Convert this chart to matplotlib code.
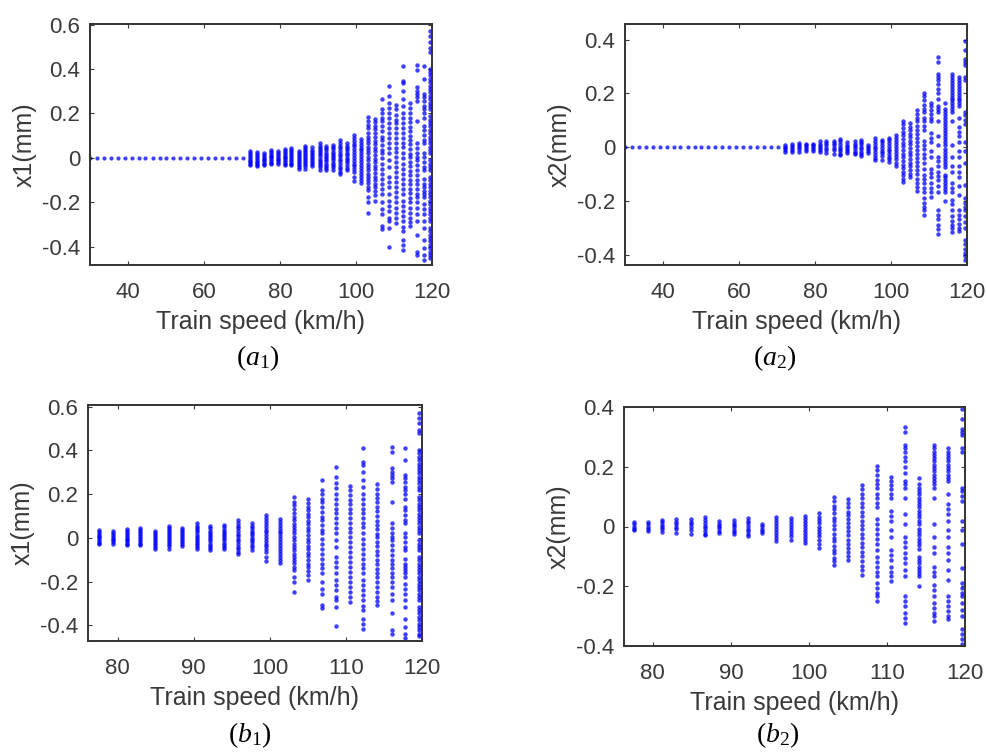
import matplotlib
matplotlib.use("Agg")
import matplotlib.pyplot as plt

plt.rcParams['font.family'] = ['Liberation Sans', 'DejaVu Sans']
plt.rcParams['axes.unicode_minus'] = False
plt.rcParams['mathtext.fontset'] = 'custom'
plt.rcParams['mathtext.rm'] = 'Liberation Serif'
plt.rcParams['mathtext.it'] = 'Liberation Serif:italic'

# speeds with a steady (zero) response
flat_speeds = [30.0, 31.8, 33.7, 35.5, 37.3, 39.1, 41.0, 42.8, 44.6, 46.5, 48.3, 50.1,
               51.9, 53.8, 55.6, 57.4, 59.3, 61.1, 62.9, 64.8, 66.6, 68.4, 70.2]

# speeds where the response spreads out
band_speeds = [72.1, 73.9, 75.7, 77.6, 79.4, 81.2, 83.0, 84.9, 86.7, 88.5, 90.4, 92.2,
               94.0, 95.8, 97.7, 99.5, 101.3, 103.2, 105.0, 106.8, 108.7, 110.5, 112.3,
               114.1, 116.0, 117.8, 119.6]

# x1 values (mm) sampled at each band speed
x1_bands = [
    [0.029, 0.02, 0.012, 0.004, -0.005, -0.013, -0.021, -0.028, -0.034],
    [0.026, 0.017, 0.009, 0.0, -0.008, -0.017, -0.025, -0.032, -0.038],
    [0.02, 0.012, 0.004, -0.004, -0.012, -0.02, -0.027, -0.034],
    [0.035, 0.027, 0.018, 0.01, 0.002, -0.006, -0.014, -0.022, -0.029],
    [0.03, 0.021, 0.013, 0.004, -0.004, -0.012, -0.019, -0.026],
    [0.04, 0.031, 0.022, 0.013, 0.005, -0.003, -0.011, -0.019, -0.027, -0.034],
    [0.043, 0.034, 0.025, 0.016, 0.007, -0.002, -0.01, -0.018, -0.026, -0.034],
    [0.03, 0.021, 0.012, 0.003, -0.006, -0.015, -0.024, -0.033, -0.041, -0.049],
    [0.053, 0.044, 0.035, 0.026, 0.017, 0.008, -0.001, -0.01, -0.019, -0.028, -0.037, -0.049],
    [0.047, 0.037, 0.028, 0.019, 0.01, 0.001, -0.008, -0.017, -0.027, -0.037],
    [0.066, 0.055, 0.045, 0.035, 0.025, 0.015, 0.006, -0.004, -0.013, -0.023, -0.033, -0.043, -0.053],
    [0.053, 0.043, 0.033, 0.023, 0.013, 0.004, -0.006, -0.016, -0.026, -0.036, -0.046, -0.056],
    [0.058, 0.048, 0.038, 0.028, 0.018, 0.008, -0.002, -0.012, -0.023, -0.033, -0.043, -0.053],
    [0.081, 0.066, 0.055, 0.043, 0.031, 0.019, 0.008, -0.004, -0.016, -0.028, -0.04, -0.052, -0.063, -0.075],
    [0.066, 0.055, 0.044, 0.033, 0.022, 0.011, 0.001, -0.01, -0.021, -0.032, -0.044, -0.056],
    [0.104, 0.089, 0.077, 0.064, 0.051, 0.038, 0.026, 0.013, 0.0, -0.013, -0.026, -0.039, -0.052,
     -0.064, -0.087, -0.105],
    [0.085, 0.072, 0.059, 0.046, 0.033, 0.02, 0.007, -0.006, -0.02, -0.033, -0.046, -0.06, -0.073,
     -0.087, -0.1, -0.113],
    [0.185, 0.165, 0.15, 0.134, 0.112, 0.096, 0.08, 0.065, 0.05, 0.035, 0.02, 0.005, -0.011, -0.026,
     -0.04, -0.055, -0.072, -0.087, -0.1, -0.115, -0.133, -0.145, -0.178, -0.2, -0.25],
    [0.176, 0.16, 0.143, 0.128, 0.11, 0.095, 0.078, 0.062, 0.045, 0.03, 0.012, -0.004, -0.02, -0.037,
     -0.052, -0.07, -0.085, -0.1, -0.118, -0.133, -0.15, -0.168, -0.194],
    [0.267, 0.218, 0.203, 0.18, 0.165, 0.142, 0.119, 0.096, 0.081, 0.058, 0.035, 0.02, -0.003, -0.026,
     -0.049, -0.072, -0.095, -0.118, -0.14, -0.163, -0.2, -0.232, -0.255, -0.308, -0.32],
    [0.325, 0.28, 0.249, 0.226, 0.203, 0.18, 0.157, 0.134, 0.112, 0.089, 0.066, 0.043, 0.02, -0.011,
     -0.041, -0.087, -0.11, -0.133, -0.163, -0.194, -0.217, -0.24, -0.27, -0.285, -0.316, -0.403],
    [0.237, 0.218, 0.195, 0.172, 0.157, 0.134, 0.112, 0.089, 0.066, 0.043, 0.028, 0.005, -0.018, -0.041,
     -0.064, -0.087, -0.11, -0.133, -0.156, -0.178, -0.201, -0.224, -0.247, -0.27, -0.293],
    [0.412, 0.348, 0.335, 0.302, 0.264, 0.234, 0.203, 0.18, 0.157, 0.134, 0.112, 0.089, 0.066, 0.05,
     0.02, -0.003, -0.026, -0.049, -0.072, -0.095, -0.118, -0.14, -0.163, -0.194, -0.217, -0.24,
     -0.262, -0.285, -0.31, -0.331, -0.37, -0.395, -0.415],
    [0.246, 0.224, 0.201, 0.181, 0.162, 0.139, 0.121, 0.098, 0.079, 0.061, 0.04, 0.019, 0.002, -0.021,
     -0.038, -0.061, -0.079, -0.101, -0.119, -0.142, -0.159, -0.181, -0.2, -0.226, -0.249, -0.272,
     -0.29, -0.308],
    [0.417, 0.394, 0.318, 0.302, 0.287, 0.272, 0.257, 0.165, 0.066, 0.043, 0.02, 0.005, -0.011, -0.034,
     -0.056, -0.079, -0.102, -0.118, -0.14, -0.163, -0.178, -0.201, -0.224, -0.255, -0.285, -0.346,
     -0.423, -0.44],
    [0.412, 0.356, 0.287, 0.272, 0.257, 0.234, 0.218, 0.203, 0.18, 0.142, 0.127, 0.104, 0.081, 0.066,
     0.02, 0.005, -0.018, -0.041, -0.056, -0.095, -0.118, -0.133, -0.148, -0.163, -0.178, -0.209,
     -0.232, -0.255, -0.285, -0.316, -0.37, -0.408, -0.438, -0.46],
    [0.57, 0.547, 0.524, 0.493, 0.478, 0.402, 0.387, 0.371, 0.356, 0.34, 0.325, 0.31, 0.295, 0.279,
     0.264, 0.249, 0.233, 0.218, 0.188, 0.172, 0.157, 0.142, 0.127, 0.111, 0.096, 0.081, 0.066, 0.05,
     0.035, 0.02, -0.011, -0.026, -0.041, -0.056, -0.087, -0.102, -0.118, -0.133, -0.148, -0.163,
     -0.178, -0.194, -0.209, -0.224, -0.239, -0.255, -0.27, -0.285, -0.316, -0.331, -0.346, -0.362,
     -0.377, -0.392, -0.408, -0.423, -0.438, -0.45],
]

# x2 values (mm) sampled at each band speed
x2_bands = [
    [0.008, 0.002, -0.004, -0.01, -0.016],
    [0.012, 0.005, -0.002, -0.009, -0.018],
    [0.015, 0.008, 0.0, -0.008, -0.018],
    [0.014, 0.007, 0.0, -0.007, -0.013],
    [0.014, 0.007, 0.0, -0.008, -0.015],
    [0.022, 0.014, 0.006, -0.002, -0.01, -0.019],
    [0.025, 0.016, 0.008, -0.001, -0.01, -0.022],
    [0.025, 0.016, 0.007, -0.002, -0.011, -0.024],
    [0.031, 0.022, 0.012, 0.003, -0.006, -0.015, -0.024, -0.03],
    [0.018, 0.01, 0.002, -0.006, -0.014, -0.022],
    [0.022, 0.013, 0.005, -0.003, -0.012, -0.02, -0.026],
    [0.029, 0.02, 0.011, 0.002, -0.007, -0.016, -0.025, -0.033],
    [0.009, 0.001, -0.007, -0.015, -0.022],
    [0.033, 0.023, 0.013, 0.003, -0.007, -0.017, -0.027, -0.038, -0.048],
    [0.028, 0.018, 0.008, -0.002, -0.012, -0.022, -0.033, -0.046],
    [0.036, 0.026, 0.015, 0.005, -0.005, -0.015, -0.025, -0.035, -0.045, -0.054],
    [0.044, 0.033, 0.022, 0.011, 0.0, -0.011, -0.022, -0.033, -0.045, -0.058, -0.071],
    [0.099, 0.085, 0.07, 0.058, 0.044, 0.03, 0.017, 0.004, -0.01, -0.024, -0.037, -0.05, -0.064,
     -0.077, -0.09, -0.104, -0.117, -0.129],
    [0.091, 0.077, 0.064, 0.05, 0.037, 0.024, 0.011, -0.002, -0.016, -0.03, -0.044, -0.058, -0.071,
     -0.085, -0.099, -0.112],
    [0.139, 0.125, 0.11, 0.096, 0.08, 0.066, 0.05, 0.035, 0.02, 0.005, -0.01, -0.025, -0.04, -0.055,
     -0.07, -0.085, -0.1, -0.116, -0.131, -0.147, -0.162],
    [0.201, 0.19, 0.174, 0.157, 0.141, 0.13, 0.108, 0.097, 0.08, 0.064, 0.025, 0.009, -0.008, -0.024,
     -0.041, -0.057, -0.079, -0.101, -0.118, -0.134, -0.151, -0.167, -0.19, -0.206, -0.223, -0.234,
     -0.25],
    [0.165, 0.152, 0.139, 0.124, 0.11, 0.097, 0.053, 0.036, 0.02, -0.013, -0.035, -0.079, -0.095,
     -0.112, -0.134, -0.151, -0.167, -0.184],
    [0.334, 0.317, 0.273, 0.262, 0.251, 0.234, 0.218, 0.2, 0.179, 0.152, 0.141, 0.13, 0.097, 0.042,
     0.009, -0.035, -0.052, -0.068, -0.09, -0.106, -0.123, -0.145, -0.167, -0.234, -0.25, -0.267,
     -0.289, -0.305, -0.322],
    [0.163, 0.141, 0.13, 0.119, 0.108, 0.097, 0.086, 0.075, 0.064, 0.053, 0.042, 0.031, 0.02, 0.009,
     -0.008, -0.019, -0.03, -0.041, -0.052, -0.063, -0.074, -0.101, -0.112, -0.123, -0.134, -0.145,
     -0.156, -0.167, -0.2],
    [0.273, 0.262, 0.251, 0.24, 0.229, 0.218, 0.207, 0.196, 0.185, 0.174, 0.163, 0.152, 0.141, 0.13,
     0.097, 0.009, -0.035, -0.068, -0.09, -0.134, -0.151, -0.167, -0.195, -0.212, -0.234, -0.256,
     -0.272, -0.289, -0.3, -0.316],
    [0.262, 0.251, 0.24, 0.229, 0.218, 0.207, 0.196, 0.185, 0.174, 0.163, 0.152, 0.108, 0.075, 0.058,
     0.042, 0.02, -0.013, -0.035, -0.068, -0.09, -0.112, -0.145, -0.178, -0.234, -0.25, -0.267,
     -0.283, -0.3, -0.31],
    [0.394, 0.361, 0.328, 0.317, 0.306, 0.262, 0.251, 0.13, 0.119, 0.102, 0.086, 0.02, -0.013, -0.057,
     -0.14, -0.19, -0.206, -0.223, -0.234, -0.256, -0.278, -0.3, -0.344, -0.36, -0.377, -0.393,
     -0.405, -0.418],
]

x_ticks_a = [40, 60, 80, 100, 120]
x_ticks_b = [80, 90, 100, 110, 120]
x1_ticks = [-0.4, -0.2, 0, 0.2, 0.4, 0.6]
x1_labels = ['-0.4', '-0.2', '0', '0.2', '0.4', '0.6']
x2_ticks = [-0.4, -0.2, 0, 0.2, 0.4]
x2_labels = ['-0.4', '-0.2', '0', '0.2', '0.4']

W, H = 987, 752
fig = plt.figure(figsize=(W / 100, H / 100), dpi=100)
ink = '#3a3a3a'


def make_axes(left, top, right, bottom):
    return fig.add_axes([left / W, 1 - bottom / H, (right - left) / W, (bottom - top) / H])


def draw(ax, bands, with_flat):
    if with_flat:
        ax.plot(flat_speeds, [0] * len(flat_speeds), 'o', color='#0000ff', ms=3.0, mew=0, alpha=0.75)
    for s, vals in zip(band_speeds, bands):
        ax.plot([s] * len(vals), vals, 'o', color='#0000ff', ms=3.2, mew=0, alpha=0.75)


def style(ax, xlim, ylim, xt, yt, ylabs, ylabel, hpx, wpx):
    ax.set_xlim(*xlim)
    ax.set_ylim(*ylim)
    ax.set_xticks(xt)
    ax.set_xticklabels([str(t) for t in xt])
    ax.set_yticks(yt)
    ax.set_yticklabels(ylabs)
    ax.tick_params(direction='in', top=True, right=True, length=3, width=0.8,
                   labelsize=16, labelcolor=ink, color=ink)
    ax.tick_params(axis='x', pad=12)
    ax.tick_params(axis='y', pad=7)
    for sp in ax.spines.values():
        sp.set_linewidth(1.4)
        sp.set_color('#333333')
    ax.set_xlabel('Train speed (km/h)', fontsize=18, color=ink, va='center')
    ax.xaxis.set_label_coords(0.5, -57 / hpx)
    ax.set_ylabel(ylabel, fontsize=18, color=ink, va='center')
    ax.yaxis.set_label_coords(-65 / wpx, 0.5)


a1 = make_axes(90, 24, 432, 265)
draw(a1, x1_bands, True)
style(a1, (30, 120), (-0.483, 0.603), x_ticks_a, x1_ticks, x1_labels, 'x1(mm)', 241, 342)

a2 = make_axes(625, 24, 967, 265)
draw(a2, x2_bands, True)
style(a2, (30, 120), (-0.437, 0.458), x_ticks_a, x2_ticks, x2_labels, 'x2(mm)', 241, 342)

b1 = make_axes(88, 405, 422, 641)
draw(b1, x1_bands, False)
style(b1, (76.1, 120), (-0.472, 0.608), x_ticks_b, x1_ticks, x1_labels, 'x1(mm)', 236, 334)

b2 = make_axes(624, 407, 965, 646)
draw(b2, x2_bands, False)
style(b2, (76.3, 120), (-0.4, 0.4), x_ticks_b, x2_ticks, x2_labels, 'x2(mm)', 239, 341)

for txt, x, y in [(r'$(a_1)$', 258, 358), (r'$(a_2)$', 775, 358),
                  (r'$(b_1)$', 250, 735), (r'$(b_2)$', 778, 735)]:
    fig.text(x / W, 1 - y / H, txt, fontsize=20, ha='center', va='center', color='black')

fig.savefig('out.png', dpi=100)
